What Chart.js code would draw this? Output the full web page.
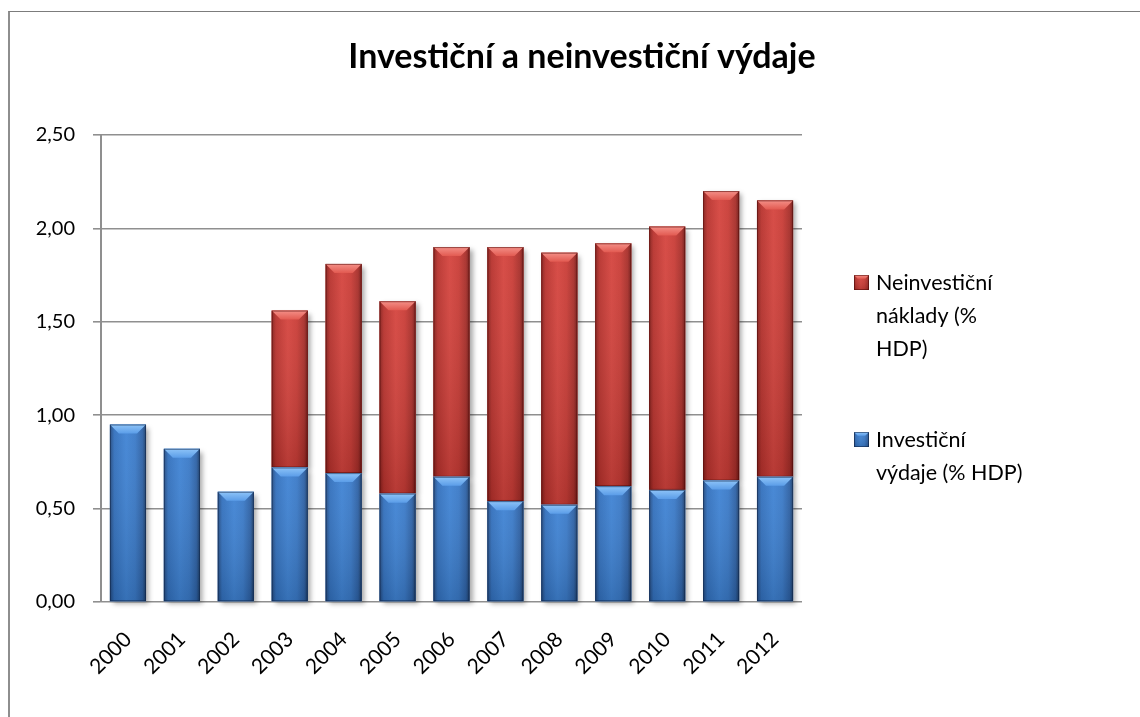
<!DOCTYPE html>
<html>
<head>
<meta charset="utf-8">
<title>Investiční a neinvestiční výdaje</title>
<style>
  html, body { margin: 0; padding: 0; background: #fff; overflow: hidden; }
  /* chart frame, right and bottom edge fall outside the picture */
  #frame { position: absolute; left: 8px; top: 11px; width: 1300px; height: 900px;
           border-left: 2px solid #8e8e8e; border-top: 1px solid #7c7c7c; }
  #chart { position: absolute; left: 0; top: 0; }
</style>
</head>
<body>
<div id="frame"></div>
<canvas id="chart" width="1140" height="717"></canvas>
<script src="https://cdn.jsdelivr.net/npm/chart.js@4.4.1/dist/chart.umd.min.js"></script>
<script>
var chartTitle = "Investiční a neinvestiční výdaje";
var years = ["2000", "2001", "2002", "2003", "2004", "2005", "2006",
             "2007", "2008", "2009", "2010", "2011", "2012"];
var investicni   = [0.95, 0.82, 0.59, 0.72, 0.69, 0.58, 0.67, 0.54, 0.52, 0.62, 0.60, 0.65, 0.67];
var neinvesticni = [null, null, null, 0.84, 1.12, 1.03, 1.23, 1.36, 1.35, 1.30, 1.41, 1.55, 1.48];
var seriesNames = ["Investiční výdaje (% HDP)", "Neinvestiční náklady (% HDP)"];
// how the legend breaks each name (as in the original)
var legendLines = [["Investiční", "výdaje (% HDP)"], ["Neinvestiční", "náklady (%", "HDP)"]];
var yMin = 0, yMax = 2.5, yStep = 0.5;

var FONT = "Lato, 'Open Sans', sans-serif";

// horizontal shading + bevel colours for each series
var palettes = [
  { base: "#3a7acb", stops: ["#22497f", "#3270bd", "#3f83d4", "#3a7ac8", "#2d61a5", "#1c3d68"],
    bevelTop: "#8ec4f8", bevelBot: "#5b9de8", edge: "rgba(15,35,70,0.55)" },
  { base: "#cc3d37", stops: ["#861f1b", "#b8322d", "#d5443e", "#c93c36", "#a72e29", "#701815"],
    bevelTop: "#f49088", bevelBot: "#e25a51", edge: "rgba(80,10,8,0.55)" }
];
var stopPos = [0, 0.12, 0.45, 0.7, 0.9, 1];

function paintBlock(ctx, x0, top, w, h, pal) {
  var x1 = x0 + w, bot = top + h;
  var g = ctx.createLinearGradient(x0, 0, x1, 0);
  pal.stops.forEach(function (c, i) { g.addColorStop(stopPos[i], c); });
  ctx.fillStyle = g;
  ctx.fillRect(x0, top, w, h);
  var v = ctx.createLinearGradient(0, top, 0, bot);
  v.addColorStop(0, "rgba(255,255,255,0.05)");
  v.addColorStop(1, "rgba(0,0,0,0.14)");
  ctx.fillStyle = v;
  ctx.fillRect(x0, top, w, h);
  var b = Math.min(9, h / 2, w / 4);
  var bg = ctx.createLinearGradient(0, top, 0, top + b);
  bg.addColorStop(0, pal.bevelTop);
  bg.addColorStop(1, pal.bevelBot);
  ctx.fillStyle = bg;
  ctx.beginPath();
  ctx.moveTo(x0, top);
  ctx.lineTo(x1, top);
  ctx.lineTo(x1 - b, top + b);
  ctx.lineTo(x0 + b, top + b);
  ctx.closePath();
  ctx.fill();
  ctx.strokeStyle = pal.edge;
  ctx.lineWidth = 1;
  ctx.strokeRect(x0 + 0.5, top + 0.5, w - 1, h - 1);
}

function barBox(bar) {
  var p = bar.getProps(["x", "y", "base", "width"], true);
  if (p.y == null || isNaN(p.y) || Math.abs(p.base - p.y) < 0.5) return null;
  return { x0: p.x - p.width / 2, w: p.width, top: Math.min(p.y, p.base), h: Math.abs(p.base - p.y) };
}

var bevelBars = {
  id: "bevelBars",
  beforeDatasetDraw: function (chart, args) {
    var ctx = chart.ctx;
    args.meta.data.forEach(function (bar) {
      var r = barBox(bar);
      if (!r) return;
      ctx.save();
      ctx.shadowColor = "rgba(0,0,0,0.35)";
      ctx.shadowBlur = 5;
      ctx.shadowOffsetX = 3;
      ctx.shadowOffsetY = 3;
      ctx.fillStyle = "#fff";
      ctx.fillRect(r.x0, r.top, r.w, r.h);
      ctx.restore();
    });
  },
  afterDatasetDraw: function (chart, args) {
    var ctx = chart.ctx;
    var pal = palettes[args.index];
    args.meta.data.forEach(function (bar) {
      var r = barBox(bar);
      if (!r) return;
      ctx.save();
      paintBlock(ctx, r.x0, r.top, r.w, r.h, pal);
      ctx.restore();
    });
  }
};

// title and right-hand legend
var decor = {
  id: "decor",
  afterDraw: function (chart) {
    var ctx = chart.ctx, area = chart.chartArea;
    ctx.save();
    ctx.fillStyle = "#000";
    ctx.font = "bold 34px " + FONT;
    ctx.textAlign = "center";
    ctx.textBaseline = "middle";
    ctx.fillText(chartTitle, 582, 57);

    ctx.font = "21.5px " + FONT;
    ctx.textAlign = "left";
    var lh = 33, gap = 58;
    var bx = area.right + 52, tx = bx + 22;
    var y = area.top + 148;
    for (var i = chart.data.datasets.length - 1; i >= 0; i--) {
      var lines = legendLines[i];
      paintBlock(ctx, bx, y - 8, 15, 15, palettes[i]);
      ctx.fillStyle = "#000";
      lines.forEach(function (ln, k) { ctx.fillText(ln, tx, y + k * lh); });
      y += lines.length * lh + gap;
    }
    ctx.restore();
  }
};

new Chart(document.getElementById("chart"), {
  type: "bar",
  data: {
    labels: years,
    datasets: [
      { label: seriesNames[0], data: investicni, backgroundColor: palettes[0].base },
      { label: seriesNames[1], data: neinvesticni, backgroundColor: palettes[1].base }
    ]
  },
  options: {
    responsive: false,
    animation: false,
    layout: { padding: { left: 10, right: 338, top: 135, bottom: 0 } },
    datasets: { bar: { categoryPercentage: 1, barPercentage: 0.67 } },
    plugins: { legend: { display: false }, title: { display: false }, tooltip: { enabled: false } },
    scales: {
      x: {
        stacked: true,
        grid: { display: false, drawTicks: false },
        border: { display: false },
        ticks: { minRotation: 45, maxRotation: 45, padding: 25, color: "#000",
                 font: { family: FONT, size: 21 } },
        afterFit: function (s) { s.height = 115; }
      },
      y: {
        stacked: true,
        min: yMin, max: yMax,
        ticks: { stepSize: yStep, padding: 18, color: "#000", font: { family: FONT, size: 20 },
                 callback: function (v) { return v.toFixed(2).replace(".", ","); } },
        grid: { color: "#8f8f8f", lineWidth: 1.6, tickLength: 8 },
        border: { color: "#8f8f8f", width: 2 },
        afterFit: function (s) { s.width = 91; }
      }
    }
  },
  plugins: [bevelBars, decor]
});
</script>
</body>
</html>
